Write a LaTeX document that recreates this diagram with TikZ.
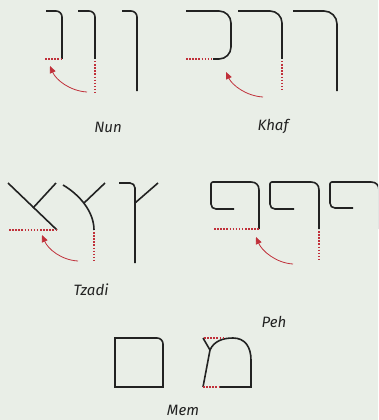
\documentclass[tikz,border=0pt]{standalone}
\usepackage{fontspec}
\setmainfont{Fira Sans}
\usetikzlibrary{arrows.meta}
\definecolor{bg}{HTML}{E9EEE7}
\definecolor{ink}{HTML}{222222}
\definecolor{redd}{HTML}{C0303A}
\begin{document}
\begin{tikzpicture}[x=1pt,y=-1pt,
  stroke/.style={draw=ink,line width=1.6pt},
  dots/.style={draw=redd,line width=1.5pt,dash pattern=on 1.5pt off 1.6pt},
  mover/.style={draw=redd,line width=0.8pt,-{Triangle[length=7pt,width=6pt]}},
  lbl/.style={text=ink,font=\itshape\fontsize{15}{17}\selectfont}]
\fill[bg] (0,0) rectangle (378,420);
\useasboundingbox (0,0) rectangle (378,420);
\clip (0,0) rectangle (378,420);
% ---------- Nun ----------
\draw[stroke,rounded corners=6pt] (46,11) -- (62,11) -- (62,59);
\draw[dots] (45,59) -- (61,59);
\draw[stroke,rounded corners=6pt] (78,11) -- (95,11) -- (95,59);
\draw[dots] (95,61) -- (95,93);
\draw[stroke,rounded corners=6pt] (122,11) -- (137,11) -- (137,91);
\coordinate (nunS) at (87,92);
\coordinate (nunE) at (50,66);
\draw[mover] (nunS) .. controls (70,91) and (56,80) .. (nunE);
\node[lbl] (nun) at (108,127) {Nun};
% ---------- Khaf ----------
\draw[stroke,rounded corners=12pt] (186,11) -- (231,11) -- (231,59) -- (213,59);
\draw[dots] (186,59) -- (213,59);
\draw[stroke,rounded corners=12pt] (238,11) -- (282,11) -- (282,59);
\draw[dots] (282,61) -- (282,91);
\draw[stroke,rounded corners=13pt] (293,11) -- (337,11) -- (337,91);
\coordinate (khafS) at (263,97);
\coordinate (khafE) at (226,72);
\draw[mover] (khafS) .. controls (246,96) and (232,85) .. (khafE);
\node[lbl] (khaf) at (273,126) {Khaf};
% ---------- Tzadi ----------
\draw[stroke] (8,183) -- (57,230);
\draw[stroke] (33,208) -- (56,183);
\draw[dots] (9,230) -- (56,230);
\draw[stroke] (63,185) .. controls (80,195) and (94,212) .. (94,230);
\draw[stroke] (84,203) -- (105,183);
\draw[dots] (94,232) -- (94,263);
\draw[stroke,rounded corners=5pt] (119,183) -- (135,183) -- (135,263);
\draw[stroke] (135,203) -- (158,183);
\coordinate (tzS) at (78,261);
\coordinate (tzE) at (42,235);
\draw[mover] (tzS) .. controls (61,260) and (48,249) .. (tzE);
\node[lbl] (tzadi) at (91,290) {Tzadi};
% ---------- Peh ----------
\draw[stroke] (234,209) -- (216,209) .. controls (213,209) and (211,207) .. (211,204) -- (211,184) .. controls (211,183) and (212,182) .. (213,182) -- (251,182) .. controls (256,182) and (259,185) .. (259,190) -- (259,229);
\draw[dots] (214,229) -- (259,229);
\draw[stroke] (294,209) -- (275,209) .. controls (272,209) and (270,207) .. (270,204) -- (270,184) .. controls (270,183) and (271,182) .. (272,182) -- (311,182) .. controls (316,182) and (319,185) .. (319,190) -- (319,229);
\draw[dots] (319,231) -- (319,262);
\draw[stroke] (353,208) -- (335,208) .. controls (332,208) and (330,206) .. (330,203) -- (330,184) .. controls (330,183) and (331,182) .. (332,182) -- (371,182) .. controls (376,182) and (379,185) .. (379,190) -- (379,229);
\coordinate (pehS) at (293,264);
\coordinate (pehE) at (256,237);
\draw[mover] (pehS) .. controls (276,263) and (262,251) .. (pehE);
\node[lbl] (peh) at (274,322) {Peh};
% ---------- Mem ----------
\draw[stroke] (115,387) -- (115,338) -- (157,338) .. controls (160.3,338) and (163,340.7) .. (163,344) -- (163,387) -- cycle;
\draw[stroke] (203,387) -- (210,350) -- (203,338);
\draw[stroke] (210,350) .. controls (214,341) and (223,338) .. (233,338) .. controls (245,338) and (251,347) .. (251,360) -- (251,387) -- (220,387);
\draw[dots] (203,387) -- (219,387);
\draw[dots] (204,338) -- (225,338);
\node[lbl] (mem) at (183,410) {Mem};
\end{tikzpicture}
\end{document}
